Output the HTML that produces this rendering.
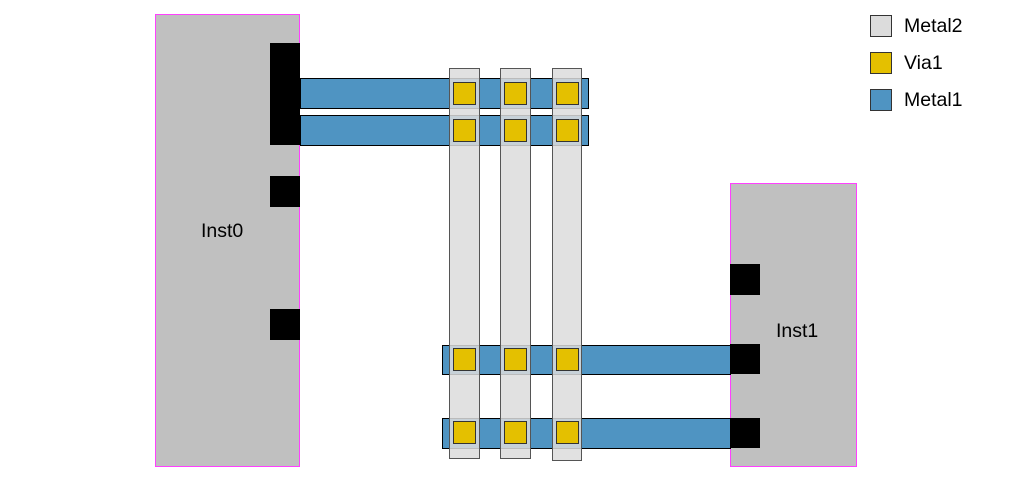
<!DOCTYPE html>
<html><head><meta charset="utf-8"><style>
html,body{margin:0;padding:0;background:#fff;width:1013px;height:477px;overflow:hidden}
svg{display:block}
text{font-family:"Liberation Sans",sans-serif;font-size:19.5px;fill:#000}
</style></head><body>
<svg width="1013" height="477" viewBox="0 0 1013 477" xmlns="http://www.w3.org/2000/svg">
<rect x="155.5" y="14.5" width="144" height="452" fill="#c0c0c0" stroke="#ff40ff" stroke-width="1"/>
<rect x="730.5" y="183.5" width="126" height="283" fill="#c0c0c0" stroke="#ff40ff" stroke-width="1"/>
<text x="201" y="237">Inst0</text>
<text x="776" y="337">Inst1</text>
<rect x="270" y="43" width="30" height="102" fill="#000"/>
<rect x="270" y="176" width="30" height="31" fill="#000"/>
<rect x="270" y="309" width="30" height="31" fill="#000"/>
<rect x="730" y="264" width="30" height="31" fill="#000"/>
<rect x="730" y="344" width="30" height="30" fill="#000"/>
<rect x="730" y="418" width="30" height="30" fill="#000"/>
<g fill="#4f94c2" stroke="#000" stroke-width="1">
<rect x="300.5" y="78.5" width="288" height="30"/>
<rect x="300.5" y="115.5" width="288" height="30"/>
<rect x="442.5" y="345.5" width="288" height="29"/>
<rect x="442.5" y="418.5" width="288" height="30"/>
</g>
<g fill="#dcdcdc" fill-opacity="0.85" stroke="#555" stroke-width="1">
<rect x="449.5" y="68.5" width="30" height="390"/>
<rect x="500.5" y="68.5" width="30" height="390"/>
<rect x="552.5" y="68.5" width="29" height="392"/>
</g>
<g fill="#e4c000" stroke="#333" stroke-width="1">
<rect x="453.5" y="82.5" width="22" height="22"/><rect x="504.5" y="82.5" width="22" height="22"/><rect x="556.5" y="82.5" width="22" height="22"/>
<rect x="453.5" y="119.5" width="22" height="22"/><rect x="504.5" y="119.5" width="22" height="22"/><rect x="556.5" y="119.5" width="22" height="22"/>
<rect x="453.5" y="348.5" width="22" height="22"/><rect x="504.5" y="348.5" width="22" height="22"/><rect x="556.5" y="348.5" width="22" height="22"/>
<rect x="453.5" y="421.5" width="22" height="22"/><rect x="504.5" y="421.5" width="22" height="22"/><rect x="556.5" y="421.5" width="22" height="22"/>
</g>
<rect x="870.5" y="15.5" width="21" height="21" fill="#dcdcdc" stroke="#333"/>
<rect x="870.5" y="52.5" width="21" height="21" fill="#e4c000" stroke="#333"/>
<rect x="870.5" y="89.5" width="21" height="21" fill="#4f94c2" stroke="#333"/>
<text x="904" y="32">Metal2</text>
<text x="904" y="69">Via1</text>
<text x="904" y="106">Metal1</text>
</svg>
</body></html>
